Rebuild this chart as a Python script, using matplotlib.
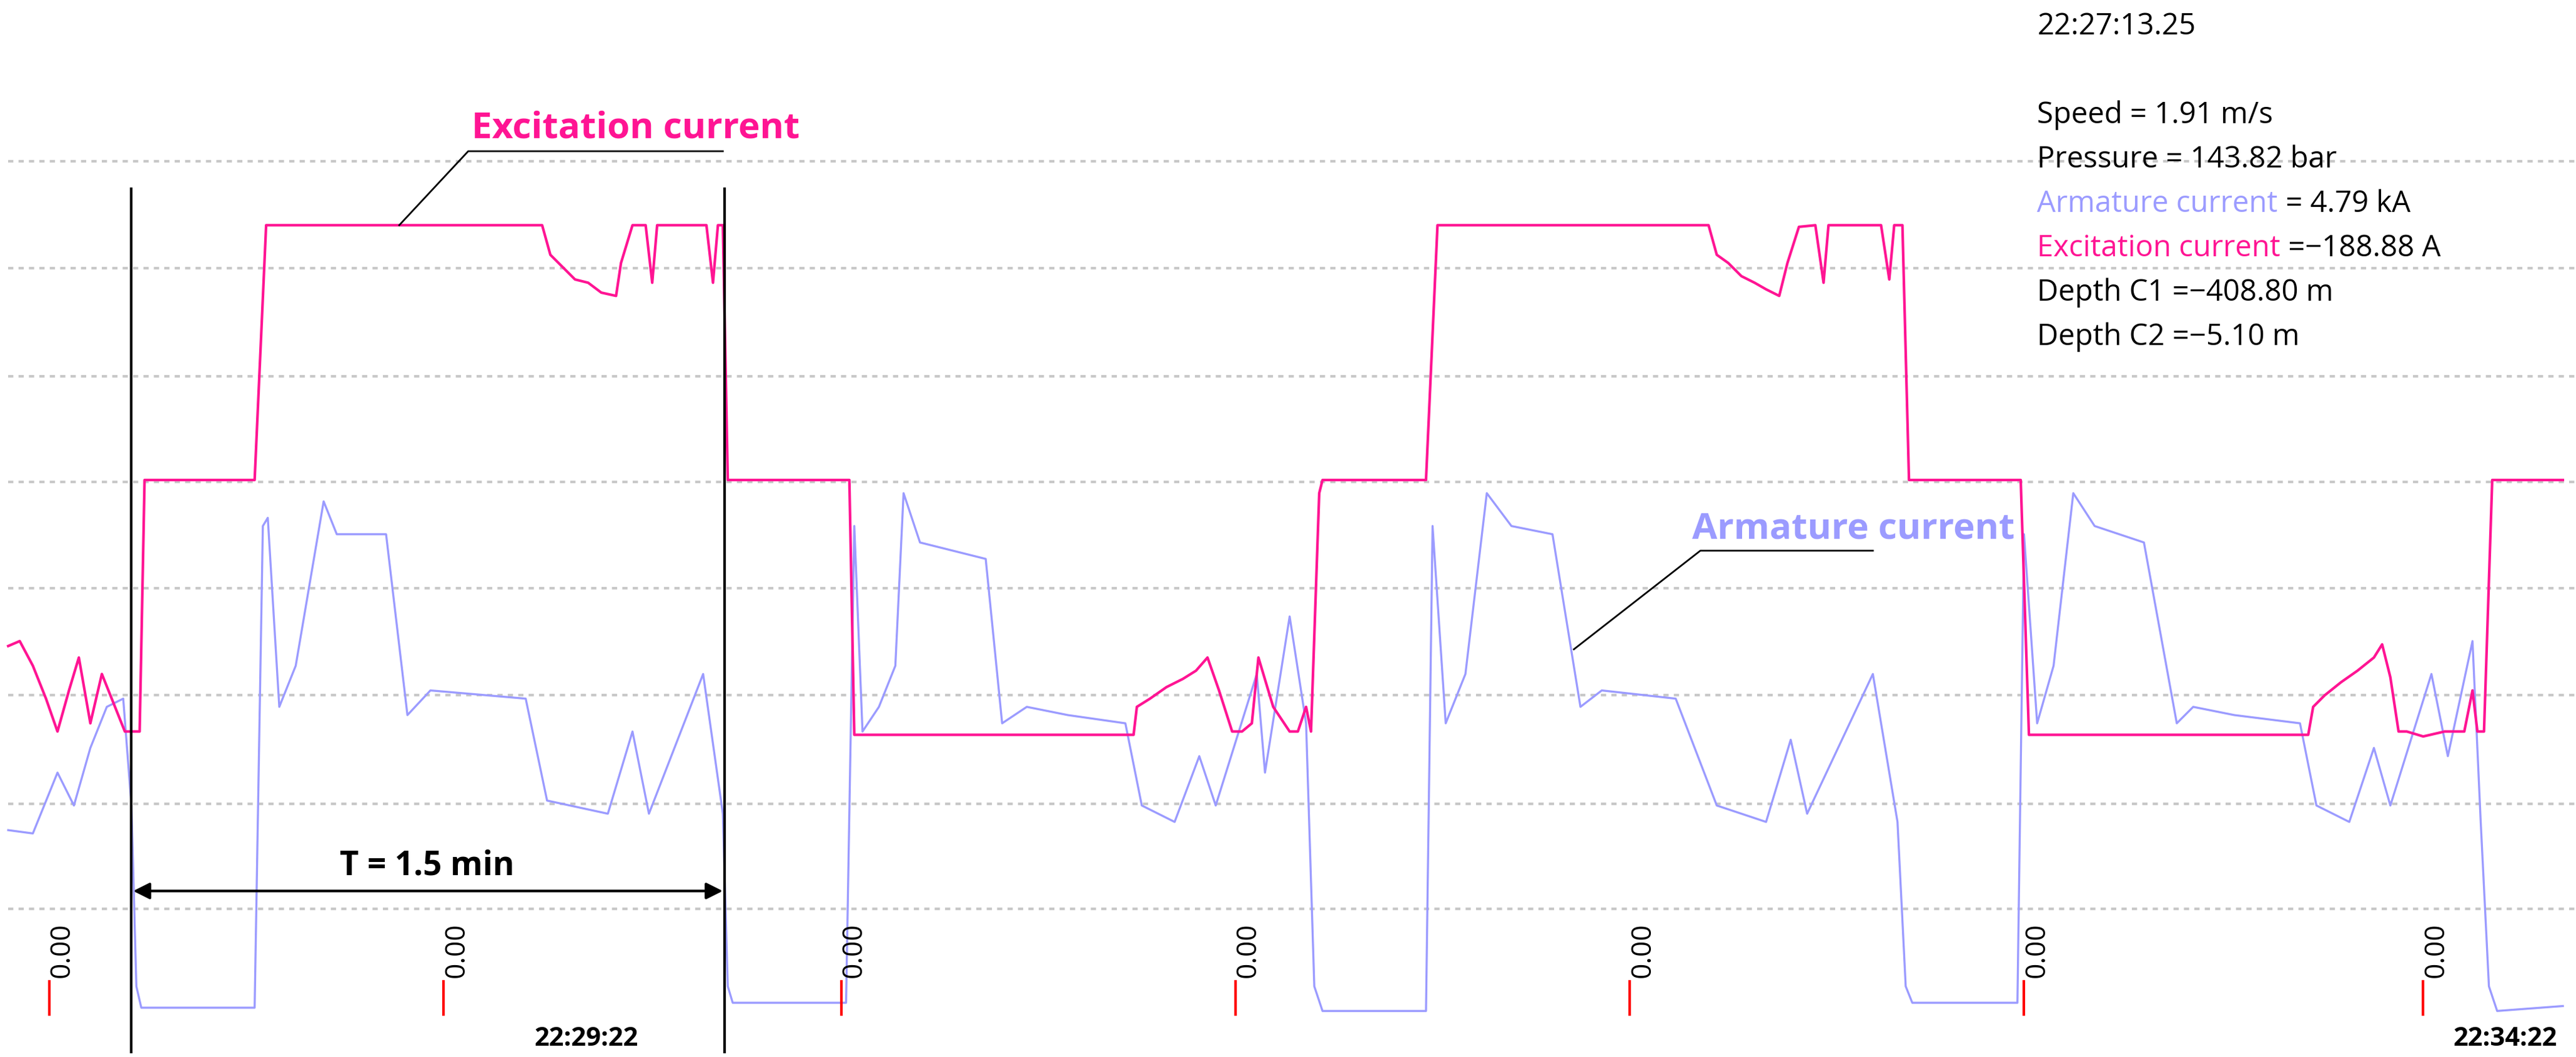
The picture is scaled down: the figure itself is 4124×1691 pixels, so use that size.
import numpy as np
from matplotlib import pyplot as plt

# trace samples (x = time index, y = screen level)
exc_x = [5, 12, 20, 28, 35, 42, 48, 55, 62, 70, 76, 80, 85, 88, 155, 162, 330, 335, 342, 350, 358, 366, 375, 378, 385,
         393, 397, 400, 430, 434, 437, 440, 443, 446, 517, 520, 690, 692, 700, 710, 720, 728, 735, 742, 750, 756, 762, 766,
         775, 785, 790, 795, 798, 803, 805, 868, 875, 1040, 1045, 1052, 1060, 1068, 1075, 1083, 1088, 1095, 1105, 1110, 1113,
         1120, 1145, 1150, 1153, 1158, 1162, 1230, 1235, 1405, 1408, 1415, 1425, 1435, 1445, 1450, 1455, 1460, 1465, 1475,
         1488, 1500, 1505, 1508, 1512, 1517, 1520, 1560]
exc_y = [393, 390, 405, 425, 445, 420, 400, 440, 410, 430, 445, 445, 445, 292, 292, 137, 137, 155, 162, 170, 172, 178, 180,
         160, 137, 137, 172, 137, 137, 172, 137, 137, 292, 292, 292, 447, 447, 430, 425, 418, 413, 408, 400, 420, 445, 445,
         440, 400, 430, 445, 445, 430, 445, 300, 292, 292, 137, 137, 155, 160, 168, 172, 176, 180, 160, 138, 137, 172, 137,
         137, 137, 170, 137, 137, 292, 292, 447, 447, 430, 423, 415, 408, 400, 392, 412, 445, 445, 448, 445, 445, 420, 445,
         445, 292, 292, 292]

arm_x = [5, 20, 35, 45, 55, 65, 75, 80, 83, 86, 155, 160, 163, 170, 180, 197, 205, 235, 248, 262, 320, 333, 370, 385, 395,
         428, 440, 443, 446, 515, 520, 525, 535, 545, 550, 560, 600, 610, 625, 650, 685, 695, 715, 730, 740, 765, 770, 785,
         795, 800, 805, 868, 872, 880, 892, 905, 920, 945, 962, 975, 1020, 1045, 1075, 1090, 1100, 1140, 1155, 1160, 1164,
         1228, 1232, 1240, 1250, 1262, 1275, 1305, 1325, 1335, 1360, 1400, 1410, 1430, 1445, 1455, 1480, 1490, 1505, 1510,
         1515, 1520, 1560]
arm_y = [505, 507, 470, 490, 455, 430, 425, 490, 600, 613, 613, 320, 315, 430, 405, 305, 325, 325, 435, 420, 425, 487, 495,
         445, 495, 410, 495, 600, 610, 610, 320, 445, 430, 405, 300, 330, 340, 440, 430, 435, 440, 490, 500, 460, 490, 410,
         470, 375, 440, 600, 615, 615, 320, 440, 410, 300, 320, 325, 430, 420, 425, 490, 500, 450, 495, 410, 500, 600, 610,
         610, 325, 440, 405, 300, 320, 330, 440, 430, 435, 440, 490, 500, 455, 490, 410, 460, 390, 500, 600, 615, 612]

grid_levels = [98, 163, 229, 293, 358, 423, 489, 553]
zero_marks = [30, 270, 512, 752, 992, 1232, 1475]
time_labels = [(357, "22:29:22"), (1525, "22:34:22")]
cursor_x = [80, 441]

readout = ["Speed = 1.91 m/s", "Pressure = 143.82 bar", "Armature current = 4.79 kA",
           "Excitation current =\u2212188.88 A", "Depth C1 =\u2212408.80 m", "Depth C2 =\u22125.10 m"]

pink = '#ff1493'
blue = '#9b9bff'

fig = plt.figure(figsize=(41.24, 16.91), dpi=100)
ax = fig.add_axes([0, 0, 1, 1])
ax.set_xlim(0, 1568)
ax.set_ylim(643, 0)
ax.axis('off')
plt.rcParams['font.family'] = ['Open Sans', 'DejaVu Sans']

for g in grid_levels:
    ax.axhline(g, xmin=5 / 1568, color='#c8c8c8', lw=3, ls=(0, (2, 2)))

ax.plot(arm_x, arm_y, color=blue, lw=2.4)
ax.plot(exc_x, exc_y, color=pink, lw=3)

for cx in cursor_x:
    ax.plot([cx, cx], [115, 640], color='black', lw=3)
ax.annotate('', xy=(80, 542), xytext=(441, 542),
            arrowprops=dict(arrowstyle='<|-|>', color='black', lw=3, mutation_scale=40))
ax.text(260, 527, 'T = 1.5 min', ha='center', va='center', fontsize=38, fontweight='bold')

for zx in zero_marks:
    ax.text(zx + 8, 578, '0.00', rotation=90, ha='center', va='center', fontsize=32)
    ax.plot([zx, zx], [597, 617], color='red', lw=3)
for tx, lab in time_labels:
    ax.text(tx, 632, lab, ha='center', va='center', fontsize=30, fontweight='bold')

# callouts
ax.text(387, 78, 'Excitation current', color=pink, ha='center', va='center', fontsize=42, fontweight='bold')
ax.plot([440, 285, 243], [92, 92, 137], color='black', lw=2)
ax.text(1128, 322, 'Armature current', color=blue, ha='center', va='center', fontsize=42, fontweight='bold')
ax.plot([1140, 1035, 958], [335, 335, 395], color='black', lw=2)

# cursor readout
fs = 34
ax.text(1240, 16, '22:27:13.25', fontsize=fs, va='center')
colors = ['black', 'black', blue, pink, 'black', 'black']
for i, (line, c) in enumerate(zip(readout, colors)):
    y = 70 + 27 * i
    if c == 'black':
        ax.text(1240, y, line, fontsize=fs, va='center')
    else:
        name, rest = line.split(' =', 1)
        t = ax.text(1240, y, name, fontsize=fs, va='center', color=c)
        ax.annotate(' =' + rest, xycoords=t, xy=(1, 0.5), va='center', fontsize=fs)

plt.savefig('out.png')
